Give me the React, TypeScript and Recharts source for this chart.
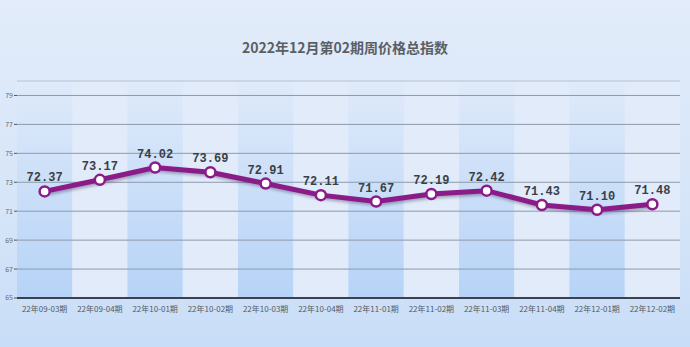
import { ComposedChart, Line, XAxis, YAxis, ReferenceArea, ReferenceLine, LabelList } from 'recharts';

const periods = [
  '22年09-03期',
  '22年09-04期',
  '22年10-01期',
  '22年10-02期',
  '22年10-03期',
  '22年10-04期',
  '22年11-01期',
  '22年11-02期',
  '22年11-03期',
  '22年11-04期',
  '22年12-01期',
  '22年12-02期',
];
const indexValues = [72.37, 73.17, 74.02, 73.69, 72.91, 72.11, 71.67, 72.19, 72.42, 71.43, 71.1, 71.48];
const yTicks = [65, 67, 69, 71, 73, 75, 77, 79];

const data = periods.map((p, i) => ({ period: p, value: indexValues[i] }));

const PURPLE = '#8a1b88';

export default function App() {
  return (
    <div
      style={{
        position: 'absolute',
        left: 0,
        top: 0,
        width: 690,
        height: 347,
        background: 'linear-gradient(#e2ecfa, #d6e5f8 60%, #c8ddf7)',
        fontFamily: '"Noto Sans CJK SC", sans-serif',
      }}
    >
      <style>{`.recharts-line-curve { filter: drop-shadow(1px 2px 1.5px rgba(40,20,60,0.35)); }`}</style>
      <div
        style={{
          position: 'absolute',
          top: 37,
          left: 0,
          width: 690,
          textAlign: 'center',
          fontSize: 14,
          fontWeight: 'bold',
          color: '#5a5f66',
        }}
      >
        2022年12月第02期周价格总指数
      </div>
      <ComposedChart
        width={690}
        height={347}
        data={data}
        margin={{ top: 81, right: 10, bottom: 0, left: 0 }}
        style={{ position: 'absolute', left: 0, top: 0 }}
      >
        <defs>
          <linearGradient id="bandDark" x1="0" y1="0" x2="0" y2="1">
            <stop offset="0%" stopColor="#dfeafa" />
            <stop offset="100%" stopColor="#b6d3f7" />
          </linearGradient>
        </defs>
        {periods.map((p, i) => (
          <ReferenceArea
            key={p}
            x1={p}
            x2={p}
            y1={65}
            y2={80}
            fill={i % 2 === 0 ? 'url(#bandDark)' : '#e1ebf9'}
            fillOpacity={1}
            stroke="none"
            zIndex={-200}
          />
        ))}
        {yTicks.slice(1).map((t) => (
          <ReferenceLine key={t} y={t} stroke="#8d9aab" strokeWidth={1} zIndex={-150} />
        ))}
        <ReferenceLine y={80} stroke="#b4c2d3" strokeWidth={1} zIndex={-150} />
        <XAxis
          dataKey="period"
          scale="band"
          height={49}
          interval={0}
          tickLine={false}
          axisLine={{ stroke: '#3a4150', strokeWidth: 2 }}
          tick={{ fontSize: 8, fill: '#555a62' }}
          tickMargin={2}
        />
        <YAxis
          width={17}
          domain={[65, 80]}
          ticks={yTicks}
          tickSize={3}
          tickLine={{ stroke: '#555' }}
          axisLine={false}
          tick={{ fontSize: 7, fill: '#666b72' }}
          tickMargin={1}
        />
        <Line
          type="linear"
          dataKey="value"
          stroke={PURPLE}
          strokeWidth={5}
          dot={{ r: 5, fill: '#ffffff', stroke: PURPLE, strokeWidth: 2.5 }}
          isAnimationActive={false}
        >
          <LabelList
            dataKey="value"
            position="top"
            offset={10}
            formatter={(v: number) => v.toFixed(2)}
            style={{ fontSize: 12, fontWeight: 'bold', fill: '#3a4048', fontFamily: '"Liberation Mono", monospace' }}
          />
        </Line>
      </ComposedChart>
    </div>
  );
}
